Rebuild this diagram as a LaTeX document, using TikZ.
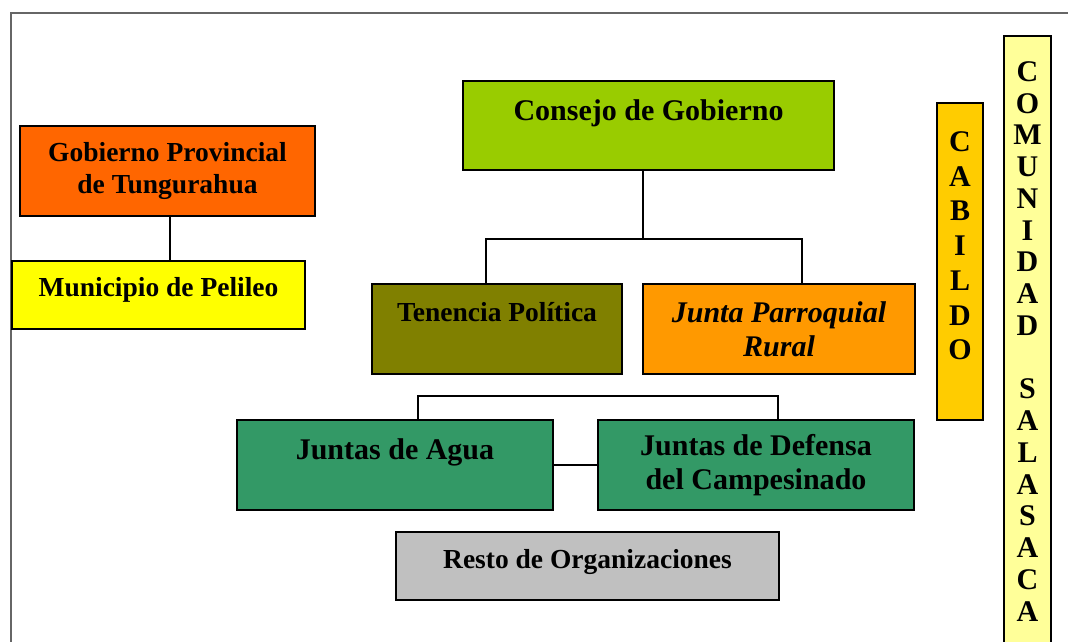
\documentclass[tikz,border=0pt]{standalone}
\usepackage{fontspec}
\setmainfont{Liberation Serif}
\usetikzlibrary{positioning}
\definecolor{provorange}{HTML}{FF6600}
\definecolor{muniyellow}{HTML}{FFFF00}
\definecolor{consejogreen}{HTML}{99CC00}
\definecolor{tenolive}{HTML}{808000}
\definecolor{juntaorange}{HTML}{FF9900}
\definecolor{aguagreen}{HTML}{339966}
\definecolor{restogray}{HTML}{C0C0C0}
\definecolor{cabgold}{HTML}{FFCC00}
\definecolor{comyellow}{HTML}{FFFF99}

\tikzset{
  orgbox/.style={draw=black, line width=0.8pt, inner sep=0pt, align=center},
  bigtext/.style={font=\bfseries\fontsize{12}{13.7}\selectfont},
  smalltext/.style={font=\bfseries\fontsize{11}{12.8}\selectfont},
  oneline/.style 2 args={text height=#1, text depth=#2},
  link/.style={line width=0.75pt, black}
}

\begin{document}
\begin{tikzpicture}[x=0.4pt,y=-0.4pt]
      \useasboundingbox (0,0) rectangle (1068,641);
      \clip (0,0) rectangle (1068,641);
      \draw[line width=0.8pt, black!60] (11,13) rectangle (1100,700);   % page frame

      % left branch
      \node[orgbox, smalltext, fill=provorange, minimum width=118pt, minimum height=36pt] (gob) at (167.5,171) {Gobierno Provincial\\de Tungurahua};
      \node[orgbox, smalltext, fill=muniyellow, minimum width=117.2pt, oneline={14.1pt}{12.9pt}] (muni) at (158.5,294.75) {Municipio de Pelileo};
      \draw[link] ([xshift=1pt]gob.south) -- ([xshift=1pt]gob.south |- muni.north);

      % consejo and its two units
      \node[orgbox, bigtext, fill=consejogreen, minimum width=148.4pt, oneline={15.6pt}{20pt}] (consejo) at (648.5,125.5) {Consejo de Gobierno};
      \node[orgbox, smalltext, fill=tenolive, minimum width=100pt, oneline={14.8pt}{21.2pt}] (tenencia) at (497,329) {Tenencia Política};
      \node[orgbox, bigtext, fill=juntaorange, minimum width=108.8pt, minimum height=36pt, font=\bfseries\itshape\fontsize{12}{13.7}\selectfont] (junta) at (779,329) {Junta Parroquial\\Rural};
      \draw[link] ([xshift=-2.2pt]consejo.south) -- ++(0,68) coordinate (split);
      \draw[link] ([xshift=-4.4pt]tenencia.north) |- (split) -| ([xshift=9.2pt]junta.north);

      % juntas
      \node[orgbox, bigtext, fill=aguagreen, minimum width=126.4pt, oneline={15.6pt}{20.4pt}] (agua) at (395,465) {Juntas de Agua};
      \node[orgbox, bigtext, fill=aguagreen, minimum width=126.4pt, minimum height=36pt] (defensa) at (756,465) {Juntas de Defensa\\del Campesinado};
      \draw[link] ([xshift=9.2pt]agua.north) -- ++(0,-23) -| ([xshift=8.8pt]defensa.north);
      \draw[link] (agua.east) -- (defensa.west);

      \node[orgbox, smalltext, fill=restogray, minimum width=153.2pt, oneline={14.6pt}{12.8pt}] (resto) at (587.5,565.75) {Resto de Organizaciones};

      % vertical bars on the right
      \node[orgbox, fill=cabgold, minimum width=18.4pt, minimum height=126.8pt] (cabildo) at (960,261.5) {};
      \node[inner sep=0pt, align=center, font=\bfseries\fontsize{12}{13.9}\selectfont, anchor=north, below=11.6pt of cabildo.north] (cabtxt) {C\\A\\B\\I\\L\\D\\O};
      \node[orgbox, fill=comyellow, minimum width=18.8pt, minimum height=265.6pt] (comunidad) at (1027.5,368) {};
      \node[inner sep=0pt, align=center, font=\bfseries\fontsize{12}{12.7}\selectfont, anchor=north, below=10.4pt of comunidad.north] (comtxt) {C\\O\\M\\U\\N\\I\\D\\A\\D\\\mbox{}\\S\\A\\L\\A\\S\\A\\C\\A};
    \end{tikzpicture}
\end{document}
